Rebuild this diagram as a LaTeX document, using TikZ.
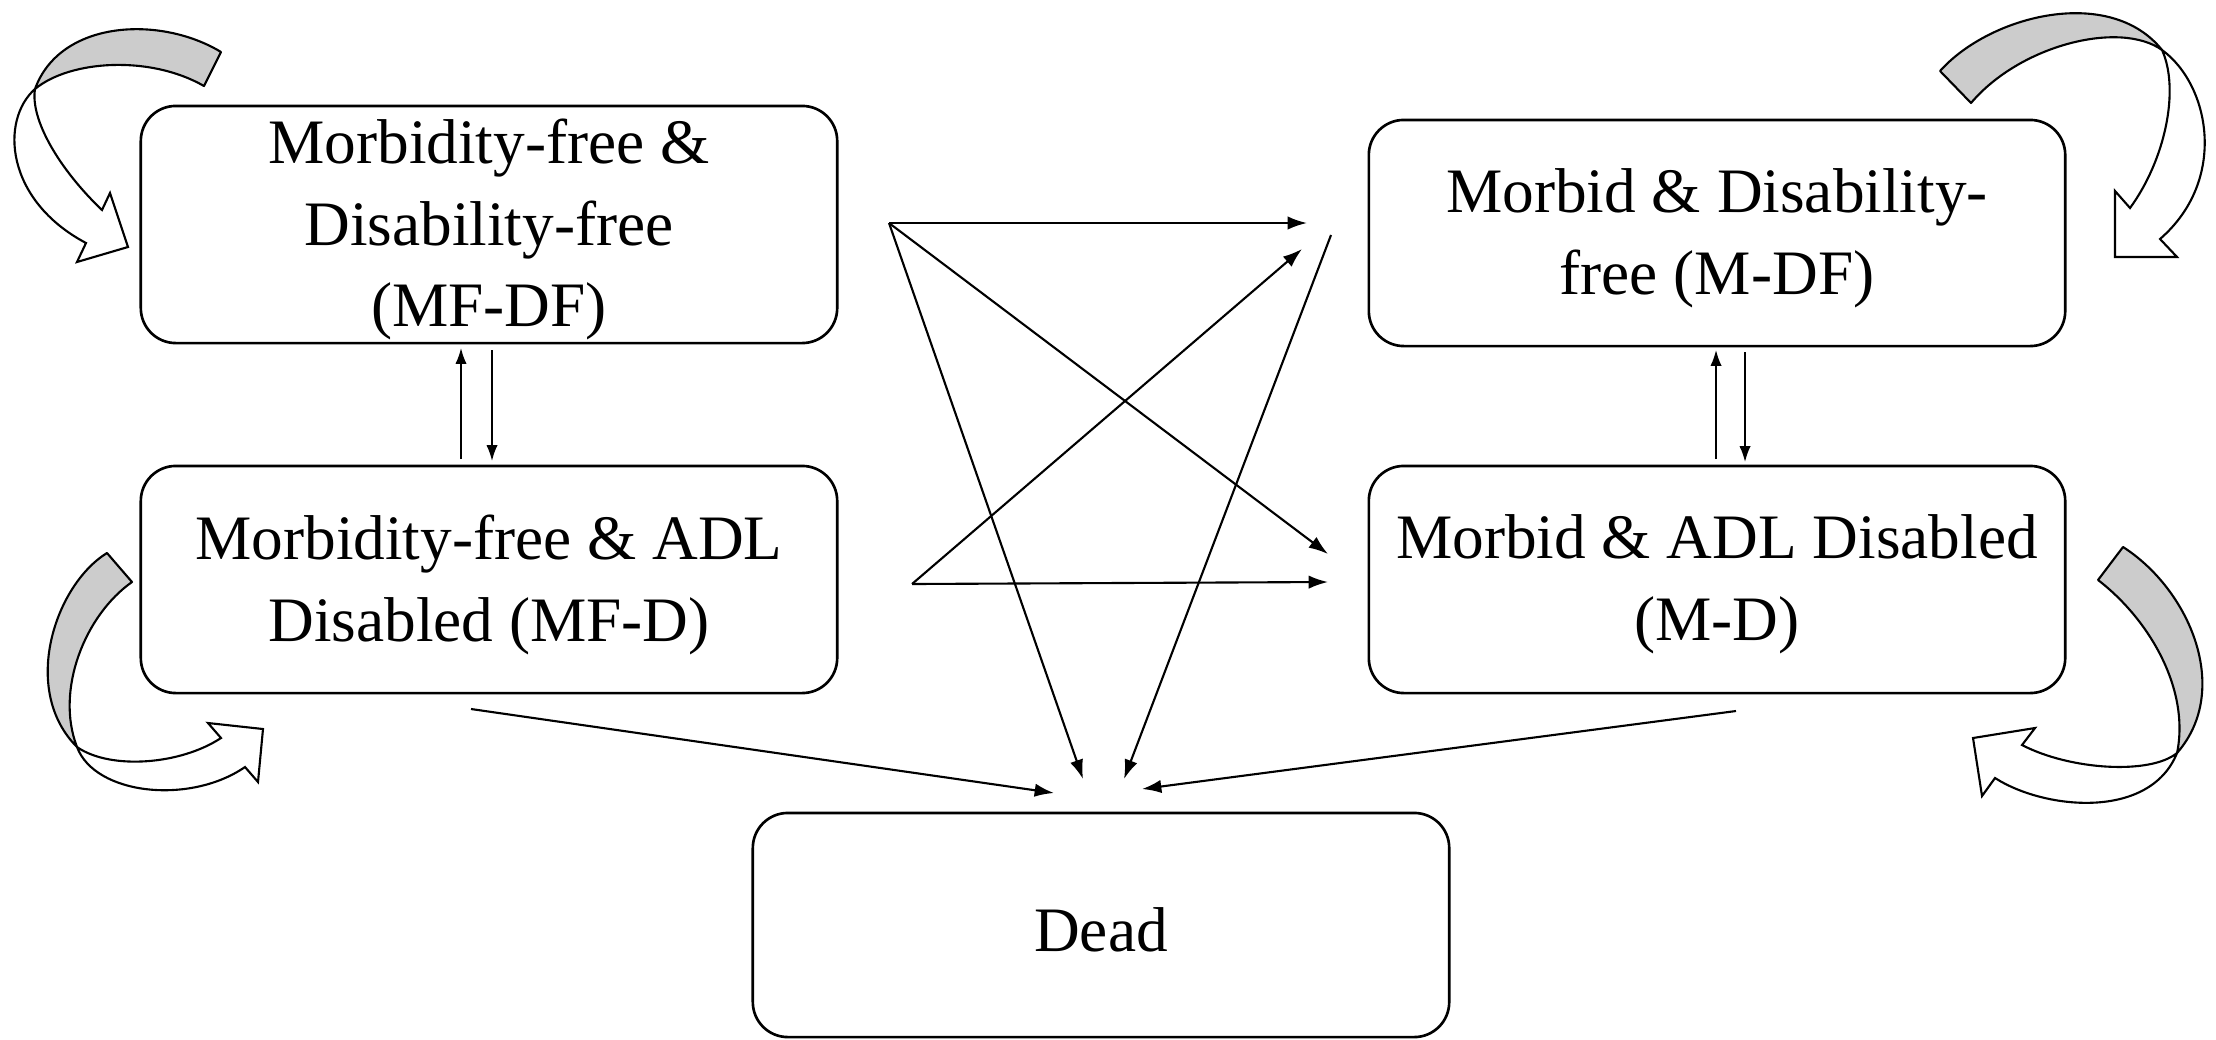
\documentclass[tikz,border=0pt]{standalone}
\usepackage{fontspec}
\setmainfont{Liberation Serif}
\usetikzlibrary{arrows.meta}
\definecolor{bandgray}{HTML}{CCCCCC}
\begin{document}
\begin{tikzpicture}[x=0.01cm,y=-0.01cm,
  state/.style={draw, line width=0.75pt, rounded corners=0.35cm, minimum width=6.96cm,
    inner sep=0pt},
  statetext/.style={align=center, inner sep=0pt, yshift=-0.05cm,
    font=\fontsize{18}{23.3}\selectfont},
  conn/.style={-{Latex[length=5.5pt,width=3.8pt]}, line width=0.6pt},
  vconn/.style={-{Latex[length=4.5pt,width=3.2pt]}, line width=0.5pt},
  band/.style={draw, line width=0.6pt, fill=bandgray, line join=round},
  loopbody/.style={draw, line width=0.6pt, fill=white, line join=miter}]
\useasboundingbox (0,0) rectangle (2216,1039);

% states
\node[state, minimum height=2.37cm] (mfdf) at (489,224.5) {};
\node[statetext] (mfdf-t) at (mfdf.center) {Morbidity-free \&\\Disability-free\\(MF-DF)};
\node[state, minimum height=2.27cm] (mfd) at (489,579.5) {};
\node[statetext] (mfd-t) at (mfd.center) {Morbidity-free \& ADL\\Disabled (MF-D)};
\node[state, minimum height=2.26cm] (mdf) at (1717,233) {};
\node[statetext] (mdf-t) at (mdf.center) {Morbid \& Disability-\\free (M-DF)};
\node[state, minimum height=2.27cm] (md) at (1717,579.5) {};
\node[statetext] (md-t) at (md.center) {Morbid \& ADL Disabled\\(M-D)};
\node[state, minimum height=2.24cm] (dead) at (1101,925) {};
\node[statetext] (dead-t) at (dead.center) {Dead};

% free ends of connectors
\coordinate (p1) at (889,223);
\coordinate (h1) at (1307,223);
\coordinate (h2) at (1328,554);
\coordinate (h3) at (1083,779);
\coordinate (p2) at (912,584);
\coordinate (h4) at (1328,582);
\coordinate (h5) at (1302,249);
\coordinate (p3) at (1331,235);
\coordinate (h6) at (1124,779);
\coordinate (p4) at (471,709);
\coordinate (h7) at (1054,793);
\coordinate (p5) at (1736,711);
\coordinate (h8) at (1142,789);

\coordinate (va1) at (461,459); \coordinate (va2) at (461,348);
\coordinate (vb1) at (492,350); \coordinate (vb2) at (492,461);
\coordinate (vc1) at (1716,459); \coordinate (vc2) at (1716,350);
\coordinate (vd1) at (1745,352); \coordinate (vd2) at (1745,462);

% cross transitions
\draw[conn] (p1) -- (h1);
\draw[conn] (p1) -- (h2);
\draw[conn] (p1) -- (h3);
\draw[conn] (p2) -- (h4);
\draw[conn] (p2) -- (h5);
\draw[conn] (p3) -- (h6);
\draw[conn] (p4) -- (h7);
\draw[conn] (p5) -- (h8);

% vertical transitions
\draw[vconn] (va1) -- (va2);
\draw[vconn] (vb1) -- (vb2);
\draw[vconn] (vc1) -- (vc2);
\draw[vconn] (vd1) -- (vd2);

% self-loop block arrows
% top left
\draw[band] (221,52) .. controls (160,15) and (60,20) .. (35,89)
  .. controls (70,60) and (150,55) .. (204,86) -- cycle;
\draw[loopbody] (35,89) .. controls (0,120) and (5,200) .. (86,243)
  -- (77,262) -- (128,247) -- (110,193) -- (102,210)
  .. controls (60,170) and (30,120) .. (35,89) -- cycle;
% top right
\draw[band] (1940,71) .. controls (1990,15) and (2110,-15) .. (2162,50)
  .. controls (2120,20) and (2020,45) .. (1971,103) -- cycle;
\draw[loopbody] (2162,50) .. controls (2210,85) and (2228,180) .. (2160,239)
  -- (2177,257) -- (2115,257) -- (2115,191) -- (2130,208)
  .. controls (2165,160) and (2180,90) .. (2162,50) -- cycle;
% bottom left
\draw[band] (107,553) .. controls (55,585) and (20,690) .. (77,747)
  .. controls (55,690) and (85,615) .. (132,582) -- cycle;
\draw[loopbody] (77,747) .. controls (95,795) and (190,805) .. (245,767)
  -- (258,782) -- (263,729) -- (208,723) -- (221,738)
  .. controls (180,765) and (110,770) .. (77,747) -- cycle;
% bottom right
\draw[band] (2123,547) .. controls (2190,590) and (2232,690) .. (2177,753)
  .. controls (2190,690) and (2150,620) .. (2098,580) -- cycle;
\draw[loopbody] (2177,753) .. controls (2150,775) and (2070,770) .. (2022,745)
  -- (2035,728) -- (1973,738) -- (1982,796) -- (1995,778)
  .. controls (2045,810) and (2150,820) .. (2177,753) -- cycle;
\end{tikzpicture}
\end{document}
